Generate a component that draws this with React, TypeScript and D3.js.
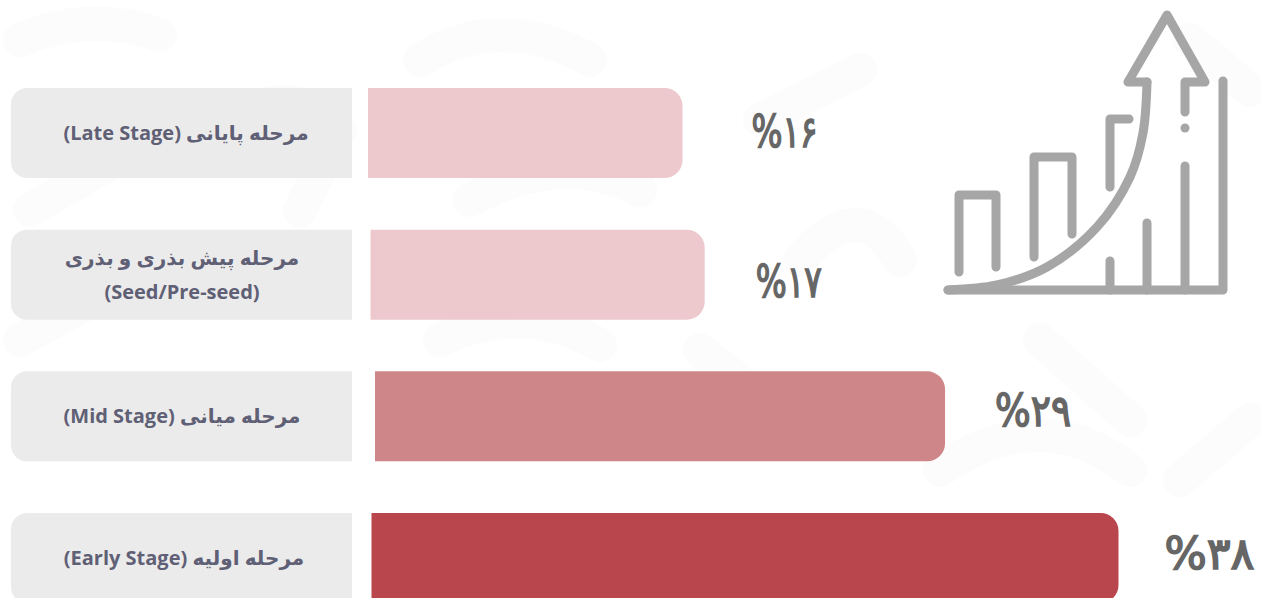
import React from "react";
import * as d3 from "d3";

const W = 1261, H = 598;
const categories = ["Late", "Seed", "Mid", "Early"];
const labelLines = [
  ["مرحله پایانی (Late Stage)"],
  ["مرحله پیش بذری و بذری", "(Seed/Pre-seed)"],
  ["مرحله میانی (Mid Stage)"],
  ["مرحله اولیه (Early Stage)"],
];
const values = [16, 17, 29, 38];
const valueLabels = ["۱۶", "۱۷", "۲۹", "۳۸"];
const barColors = ["#edc9ce", "#edc9ce", "#cf8688", "#b9454d"];
const barStarts = [368, 370.5, 375, 371.5];
const labelCenters = [186, 182, 182, 184];
const valueDx = [102, 84, 88, 91];
const valueDy = [14, 22, 10, 11];
const valueWidths = [66, 66, 76, 90];

const x = d3.scaleLinear().domain([0, 38]).range([0, 747]);
const y = d3.scalePoint<string>().domain(categories).range([133, 558]);
const BH = 90;
const FONT = "'Open Sans', 'DejaVu Sans', sans-serif";

function rightRounded(x0: number, x1: number, y0: number, y1: number, r: number) {
  const p = d3.path();
  p.moveTo(x0, y0);
  p.lineTo(x1 - r, y0);
  p.arcTo(x1, y0, x1, y0 + r, r);
  p.lineTo(x1, y1 - r);
  p.arcTo(x1, y1, x1 - r, y1, r);
  p.lineTo(x0, y1);
  p.closePath();
  return p.toString();
}
function leftRounded(x0: number, x1: number, y0: number, y1: number, r: number) {
  const p = d3.path();
  p.moveTo(x1, y0);
  p.lineTo(x0 + r, y0);
  p.arcTo(x0, y0, x0, y0 + r, r);
  p.lineTo(x0, y1 - r);
  p.arcTo(x0, y1, x0 + r, y1, r);
  p.lineTo(x1, y1);
  p.closePath();
  return p.toString();
}

const curvePts: [number, number][] = [[948, 290], [997, 285], [1047, 267], [1097, 227], [1130, 177], [1143, 133], [1147, 82]];
const curve = d3.line().curve(d3.curveCatmullRom.alpha(0.5))(curvePts) as string;
const iconPaths = [
  "M948 290H1223V81",
  "M1147 82H1128L1167 15L1205 82H1185V112",
  "M1185 166V290",
  "M959 272V195H996V267",
  "M1034 257V157H1072V234",
  "M1110 187V119H1129",
  "M1110 261V290",
  "M1147 223V290",
];
const watermark = [
  "M20 40Q90 10 160 35", "M30 210L150 140", "M220 120Q300 80 340 130L300 210",
  "M420 60Q500 10 590 60", "M470 200Q560 150 640 190", "M760 120L860 70", "M800 260Q860 190 900 260",
  "M1040 340L1130 420", "M940 470Q1040 400 1130 470", "M20 340L130 280", "M440 340Q520 300 600 345",
  "M700 350L790 420", "M1190 40L1250 90", "M1180 480L1250 420",
];

export default function App() {
  return (
    <svg width={W} height={H} viewBox={`0 0 ${W} ${H}`} style={{ position: "absolute", left: 0, top: 0, background: "#ffffff" }}>
      <g fill="none" stroke="#fcfcfc" strokeWidth={34} strokeLinecap="round" strokeLinejoin="round">
        {watermark.map((d, i) => <path key={i} d={d} />)}
      </g>
      {categories.map((c, i) => {
        const cy = y(c) as number;
        const y0 = cy - BH / 2, y1 = cy + BH / 2;
        const end = barStarts[i] + x(values[i]);
        const lines = labelLines[i];
        return (
          <g key={c}>
            <path d={leftRounded(11, 352, y0, y1, 16)} fill="#ebebeb" />
            <path d={rightRounded(barStarts[i], end, y0, y1, 18)} fill={barColors[i]} />
            {lines.map((t, j) => (
              <text key={j} x={labelCenters[i]} y={cy + (j - (lines.length - 1) / 2) * 34 + 7}
                textAnchor="middle" fontFamily={FONT} fontWeight={700} fontSize={20} fill="#5f5f75" direction="rtl" style={{ unicodeBidi: "plaintext" }}>{t}</text>
            ))}
            <text x={end + valueDx[i]} y={cy + valueDy[i]} textAnchor="middle" fontFamily="'DejaVu Sans', sans-serif" fontWeight={400} fontSize={44} fill="#666666" stroke="#666666" strokeWidth={1.6} direction="ltr"
              textLength={valueWidths[i]} lengthAdjust="spacingAndGlyphs">
              {"%" + valueLabels[i]}
            </text>
          </g>
        );
      })}
      <g fill="none" stroke="#a6a6a6" strokeWidth={9} strokeLinecap="round" strokeLinejoin="round">
        <path d={curve} />
        {iconPaths.map((d, i) => <path key={i} d={d} />)}
      </g>
      <circle cx={1185} cy={128} r={4.5} fill="#a6a6a6" />
    </svg>
  );
}
